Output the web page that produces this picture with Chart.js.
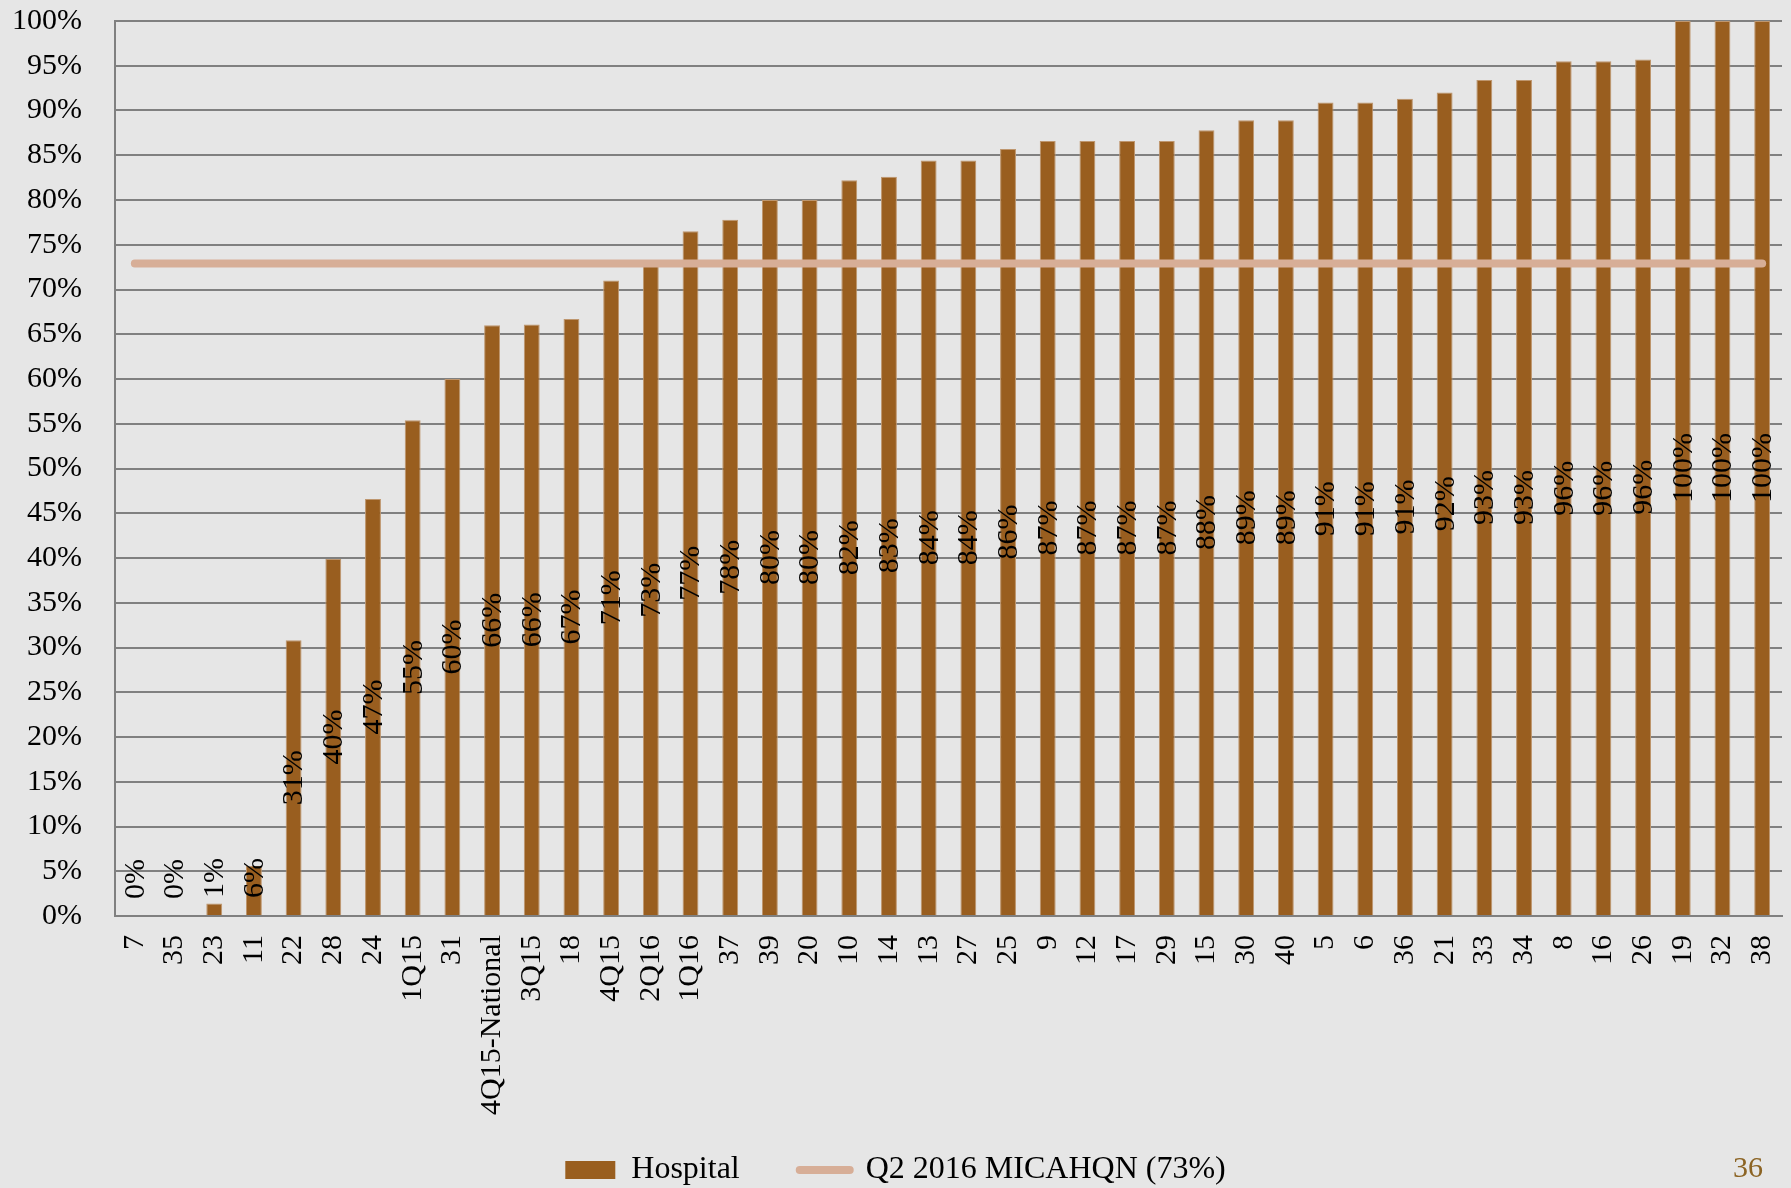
<!DOCTYPE html>
<html>
<head>
<meta charset="utf-8">
<script src="https://cdn.jsdelivr.net/npm/chart.js@4.4.1/dist/chart.umd.min.js"></script>
<style>
    html, body { margin: 0; padding: 0; background: #e6e6e6; }
    #wrap { width: 1791px; height: 1188px; }
</style>
</head>
<body>
<div id="wrap"><canvas id="hospitalChart" width="1791" height="1188"></canvas></div>
<script>
const labels = ['7', '35', '23', '11', '22', '28', '24', '1Q15', '31', '4Q15-National', '3Q15', '18', '4Q15', '2Q16',
    '1Q16', '37', '39', '20', '10', '14', '13', '27', '25', '9', '12', '17', '29', '15', '30', '40', '5', '6', '36', '21',
    '33', '34', '8', '16', '26', '19', '32', '38']

const hospitalValues = [0, 0, 1.4, 5.6, 30.8, 39.9, 46.6, 55.4, 60.0, 66.0, 66.1, 66.7, 71.0, 72.7, 76.5, 77.8, 80.0, 80.0,
    82.2, 82.6, 84.4, 84.4, 85.7, 86.6, 86.6, 86.6, 86.6, 87.8, 88.9, 88.9, 90.9, 90.9, 91.3, 92.0, 93.4, 93.4, 95.5, 95.5,
    95.7, 100, 100, 100]

const benchmarkValues = [72.9, 72.9, 72.9, 72.9, 72.9, 72.9, 72.9, 72.9, 72.9, 72.9, 72.9, 72.9, 72.9, 72.9, 72.9, 72.9,
    72.9, 72.9, 72.9, 72.9, 72.9, 72.9, 72.9, 72.9, 72.9, 72.9, 72.9, 72.9, 72.9, 72.9, 72.9, 72.9, 72.9, 72.9, 72.9, 72.9,
    72.9, 72.9, 72.9, 72.9, 72.9, 72.9]

const seriesNames = ['Hospital', 'Q2 2016 MICAHQN (73%)']
const pageNumber = '36'

const serif = "'Palatino Linotype', 'Book Antiqua', 'Liberation Serif', serif"
const barColor = 'rgb(153, 94, 31)'
const lineColor = 'rgb(215, 174, 151)'
const gridColor = '#808080'

// value labels, rotated, in the middle of each bar (kept clear of the axis)
const barLabels = {
    id: 'barLabels',
    afterDatasetsDraw(chart) {
        const meta = chart.getDatasetMeta(0)
        const ctx = chart.ctx
        ctx.save()
        ctx.font = `30px ${serif}`
        ctx.fillStyle = '#000'
        ctx.textAlign = 'center'
        ctx.textBaseline = 'middle'
        meta.data.forEach((bar, i) => {
            const text = Math.round(hospitalValues[i]) + '%'
            const w = ctx.measureText(text).width
            let cy = (bar.y + bar.base) / 2
            cy = Math.min(cy, bar.base - 17 - w / 2)
            ctx.save()
            ctx.translate(bar.x + 1, cy)
            ctx.rotate(-Math.PI / 2)
            ctx.fillText(text, 0, 0)
            ctx.restore()
        })
        ctx.restore()
    }
}

// slide number in the corner, legend row nudged down, long x labels not clipped
const slideExtras = {
    id: 'slideExtras',
    afterLayout(chart) {
        chart.legend.top += 8
        chart.legend.bottom += 8
        chart.scales.x.bottom = chart.height
    },
    afterDraw(chart) {
        const ctx = chart.ctx
        ctx.save()
        ctx.font = `30px ${serif}`
        ctx.fillStyle = 'rgb(140, 100, 36)'
        ctx.textAlign = 'right'
        ctx.textBaseline = 'alphabetic'
        ctx.fillText(pageNumber, 1763, 1177)
        ctx.restore()
    }
}

const ctx = document.getElementById('hospitalChart').getContext('2d')

new Chart(ctx, {
    data: {
        labels,
        datasets: [{
            type: 'bar',
            label: seriesNames[0],
            data: hospitalValues,
            backgroundColor: barColor,
            borderColor: 'rgb(190, 150, 110)',
            borderWidth: 1,
            barPercentage: 0.4,
            categoryPercentage: 1,
            order: 1
        }, {
            type: 'line',
            label: seriesNames[1],
            data: benchmarkValues,
            borderColor: lineColor,
            backgroundColor: lineColor,
            borderWidth: 8,
            borderCapStyle: 'round',
            pointRadius: 0,
            fill: false,
            order: 0
        }]
    },
    options: {
        responsive: false,
        animation: false,
        layout: {
            padding: 0
        },
        scales: {
            x: {
                grid: {display: false, drawTicks: false},
                border: {display: true, color: gridColor, width: 2},
                ticks: {
                    autoSkip: false,
                    maxRotation: 90,
                    minRotation: 90,
                    padding: 19,
                    color: '#000',
                    font: {family: serif, size: 30}
                },
                afterFit(scale) {
                    scale.height = 170
                    scale.paddingLeft = 0
                    scale.paddingRight = 9
                }
            },
            y: {
                min: 0,
                max: 100,
                grid: {color: gridColor, lineWidth: 2, drawTicks: false},
                border: {display: true, color: gridColor, width: 2},
                ticks: {
                    stepSize: 5,
                    padding: 33,
                    color: '#000',
                    font: {family: serif, size: 30},
                    callback: v => v + '%'
                },
                afterFit(scale) {
                    scale.width = 115
                    scale.paddingTop = 21
                    scale.paddingBottom = 0
                }
            }
        },
        plugins: {
            tooltip: {enabled: false},
            legend: {
                position: 'bottom',
                labels: {
                    usePointStyle: true,
                    pointStyleWidth: 50,
                    boxHeight: 18,
                    padding: 60,
                    color: '#000',
                    font: {family: serif, size: 32},
                    generateLabels(chart) {
                        const items = Chart.defaults.plugins.legend.labels.generateLabels(chart)
                        items.sort((a, b) => a.datasetIndex - b.datasetIndex)
                        items.forEach(item => {
                            if (item.datasetIndex === 0) {
                                item.pointStyle = 'rect'
                                item.fillStyle = barColor
                                item.lineWidth = 0
                            } else {
                                item.pointStyle = 'line'
                                item.strokeStyle = lineColor
                                item.lineWidth = 8
                                item.lineCap = 'round'
                            }
                        })
                        return items
                    }
                }
            }
        }
    },
    plugins: [barLabels, slideExtras]
})
</script>
</body>
</html>
